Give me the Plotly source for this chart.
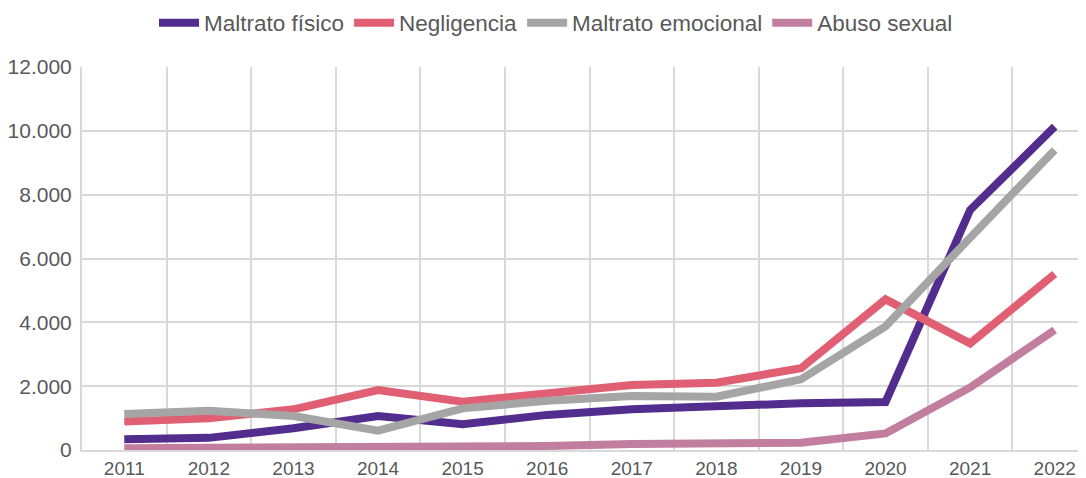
import plotly.graph_objects as go

years = ["2011", "2012", "2013", "2014", "2015", "2016", "2017", "2018", "2019", "2020", "2021", "2022"]
maltrato_fisico = [340, 380, 680, 1065, 805, 1100, 1275, 1380, 1465, 1505, 7520, 10130]
negligencia = [890, 995, 1275, 1880, 1515, 1785, 2035, 2110, 2560, 4720, 3340, 5515]
maltrato_emocional = [1130, 1230, 1065, 605, 1305, 1540, 1690, 1670, 2215, 3875, 6650, 9400]
abuso_sexual = [55, 60, 85, 70, 70, 125, 185, 190, 230, 520, 1960, 3760]

y_ticks = [0, 2000, 4000, 6000, 8000, 10000, 12000]
y_labels = ["0", "2.000", "4.000", "6.000", "8.000", "10.000", "12.000"]

series = [
    ("Maltrato físico", maltrato_fisico, "#532D8E"),
    ("Negligencia", negligencia, "#E15F72"),
    ("Maltrato emocional", maltrato_emocional, "#A5A5A5"),
    ("Abuso sexual", abuso_sexual, "#C17E9E"),
]

fig = go.Figure()
for name, vals, color in series:
    fig.add_trace(go.Scatter(x=years, y=vals, name=name, mode="lines",
                             line=dict(color=color, width=8)))

# page body has an 8px default margin; figure sized to fit the 1086x478 window
W, H = 1078, 470
fig.update_layout(
    width=W, height=H,
    margin=dict(l=74, r=0, t=59, b=28, autoexpand=False),
    paper_bgcolor="white", plot_bgcolor="white",
    font=dict(family="Liberation Sans", size=19, color="#595959"),
    legend=dict(orientation="h", xref="container", x=548 / W, xanchor="center",
                yref="container", y=1 - 15 / H, yanchor="middle",
                font=dict(size=22.5, color="#595959"), itemwidth=40,
                tracegroupgap=0),
    showlegend=True,
)
fig.update_xaxes(type="category", tickson="boundaries", range=[-0.5, 11.37],
                 automargin=False,
                 showgrid=True, gridcolor="#D9D9D9", gridwidth=2,
                 showline=True, linecolor="#D9D9D9", linewidth=2,
                 ticks="", ticklabelstandoff=0, tickfont=dict(size=19, color="#595959"))
fig.update_yaxes(range=[0, 12000], tickvals=y_ticks, ticktext=y_labels,
                 automargin=False,
                 showgrid=True, gridcolor="#D9D9D9", gridwidth=2,
                 showline=True, linecolor="#D9D9D9", linewidth=2,
                 zeroline=False, ticks="", ticklabelstandoff=4,
                 tickfont=dict(size=21, color="#595959"))

fig.write_html("out.html")
